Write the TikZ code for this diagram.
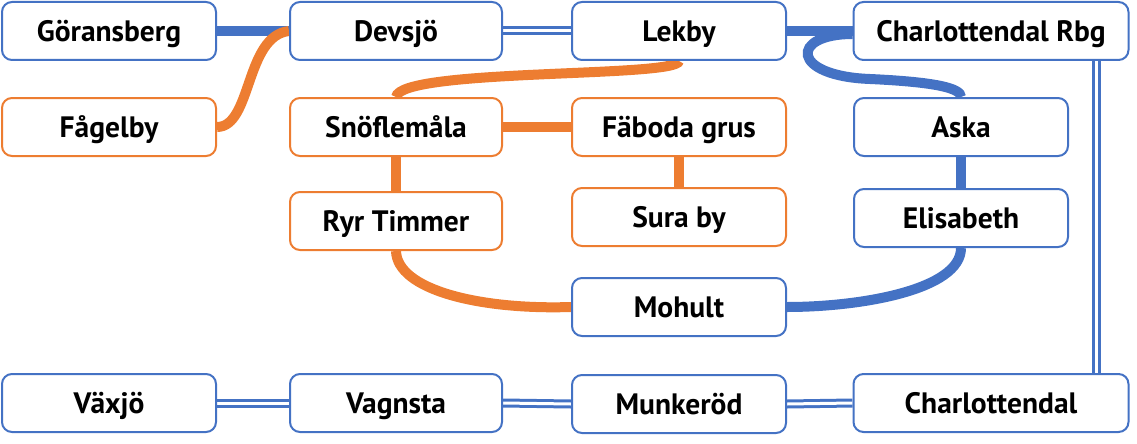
\documentclass[tikz,border=0pt]{standalone}
\usepackage{fontspec}
\setmainfont{PT Sans}
\usetikzlibrary{backgrounds,calc}
\definecolor{lblue}{HTML}{4472C4}
\definecolor{lorange}{HTML}{ED7D31}
\tikzset{
  stn/.style={rectangle, rounded corners=10pt, draw=lblue, line width=2pt, fill=white,
    minimum width=214pt, minimum height=58pt, inner sep=0pt,
    text height=21pt, text depth=0pt,
    font=\fontsize{29.5}{32}\selectfont\bfseries},
  ostn/.style={stn, draw=lorange},
  bline/.style={draw=lblue, line width=10pt},
  oline/.style={draw=lorange, line width=10pt},
  dline/.style={draw=lblue, line width=3pt, double=white, double distance=3pt},
}
\begin{document}
\begin{tikzpicture}[x=1pt,y=-1pt]
\useasboundingbox (0,0) rectangle (1137,444);
\node[stn] (gor) at (109,31) {Göransberg};
\node[stn, minimum width=212pt] (dev) at (396,31) {Devsjö};
\node[stn] (lek) at (679,31) {Lekby};
\node[stn, minimum width=275pt] (crbg) at (991,31) {Charlottendal Rbg};
\node[ostn] (fag) at (109,127) {Fågelby};
\node[ostn, minimum width=212pt] (sno) at (396,127) {Snöflemåla};
\node[ostn] (fab) at (679,127) {Fäboda grus};
\node[stn] (ask) at (961,127) {Aska};
\node[ostn, minimum width=212pt] (ryr) at (396,221) {Ryr Timmer};
\node[ostn] (sur) at (679,217) {Sura by};
\node[stn] (eli) at (961,218) {Elisabeth};
\node[stn] (moh) at (679,307) {Mohult};
\node[stn] (vax) at (109,403) {Växjö};
\node[stn, minimum width=212pt] (vag) at (396,403) {Vagnsta};
\node[stn] (mun) at (679,404) {Munkeröd};
\node[stn, minimum width=275pt] (cha) at (991,403) {Charlottendal};
\begin{pgfonlayer}{background}
\path[bline] (gor.east) -- (dev.west);
\path[dline] (dev.east) -- (lek.west);
\path[bline] (lek.east) -- (crbg.west);
\path[bline] ($(crbg.west)+(0,3)$) .. controls (790,34) and (790,76) .. (870,79) .. controls (935,82) and (961,88) .. (ask.north);
\path[bline] (ask.south) -- (eli.north);
\path[bline] (eli.south) .. controls (961,290) and (860,307) .. (moh.east);
\path[dline] (crbg.south -| 1096,0) -- (cha.north -| 1096,0);
\path[oline] (fag.east) .. controls (252,127) and (245,36) .. (dev.west);
\path[oline] (lek.south) .. controls (678,78) and (400,68) .. (sno.north);
\path[oline] (sno.east) -- (fab.west);
\path[oline] (sno.south) -- (ryr.north);
\path[oline] (fab.south) -- (sur.north);
\path[oline] (ryr.south) .. controls (397,290) and (480,310) .. (moh.west);
\path[dline] (vax.east) -- (vag.west);
\path[dline] (vag.east) -- (mun.west);
\path[dline] (mun.east) -- (cha.west);
\end{pgfonlayer}
\end{tikzpicture}
\end{document}
